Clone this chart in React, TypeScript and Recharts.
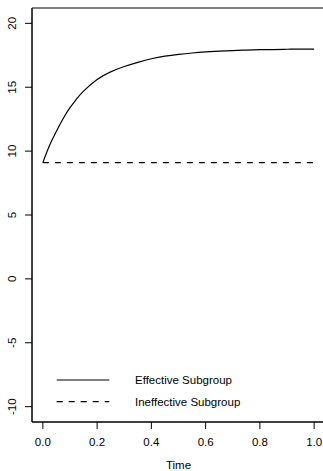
import { LineChart, Line, XAxis, YAxis, Legend, ReferenceArea } from "recharts";

// time grid and the two subgroup curves
const time = [0, 0.025, 0.05, 0.075, 0.1, 0.125, 0.15, 0.2, 0.25, 0.3, 0.35, 0.4, 0.45, 0.5, 0.55, 0.6, 0.65, 0.7, 0.75, 0.8, 0.85, 0.9, 0.95, 1.0];
const effective = [9.1, 10.45, 11.55, 12.55, 13.4, 14.1, 14.7, 15.6, 16.2, 16.62, 16.95, 17.23, 17.43, 17.57, 17.68, 17.76, 17.82, 17.87, 17.91, 17.94, 17.95, 17.97, 17.98, 17.98];
const ineffective = [9.1, 9.1, 9.1, 9.1, 9.1, 9.1, 9.1, 9.1, 9.1, 9.1, 9.1, 9.1, 9.1, 9.1, 9.1, 9.1, 9.1, 9.1, 9.1, 9.1, 9.1, 9.1, 9.1, 9.1];

const xTicks = [0, 0.2, 0.4, 0.6, 0.8, 1.0];
const yTicks = [-10, -5, 0, 5, 10, 15, 20];
const xDomain = [-0.04, 1.04];
const yDomain = [-11.2, 21.2];

const FONT = "'Liberation Sans', Arial, Helvetica, sans-serif";
const FS = 11.5;

const data = time.map((t, i) => ({ t, effective: effective[i], ineffective: ineffective[i] }));

function YTick(props: any) {
  const { y, payload } = props;
  return (
    <text
      x={12}
      y={y}
      transform={`rotate(-90, 12, ${y})`}
      textAnchor="middle"
      dominantBaseline="central"
      fontSize={FS}
      fontFamily={FONT}
      fill="#000"
    >
      {payload.value}
    </text>
  );
}

function XTick(props: any) {
  const { x, y, payload } = props;
  return (
    <text x={x} y={y + 11} textAnchor="middle" dominantBaseline="central" fontSize={FS} fontFamily={FONT} fill="#000">
      {Number(payload.value).toFixed(1)}
    </text>
  );
}

function LegendBox({ payload }: any) {
  const items = payload ?? [];
  return (
    <svg width={200} height={42} style={{ display: "block" }}>
      {items.map((item: any, i: number) => {
        const cy = 10 + i * 21.7;
        return (
          <g key={item.value}>
            <line
              x1={6.7}
              x2={59.3}
              y1={cy}
              y2={cy}
              stroke="#000"
              strokeWidth={1.2}
              strokeDasharray={item.payload?.strokeDasharray}
            />
            <text x={85} y={cy} dominantBaseline="central" fontSize={FS} fontFamily={FONT} fill="#000">
              {item.value}
            </text>
          </g>
        );
      })}
    </svg>
  );
}

export default function App() {
  return (
    <div style={{ position: "absolute", left: 0, top: 0, width: 323, height: 471, overflow: "hidden", background: "#fff" }}>
      <LineChart width={340} height={471} data={data} margin={{ top: 8, right: 15, bottom: 0, left: 0 }}>
        <XAxis
          dataKey="t"
          type="number"
          domain={xDomain}
          ticks={xTicks}
          allowDataOverflow
          height={49}
          tickSize={7}
          tickLine={{ stroke: "#000" }}
          axisLine={{ stroke: "#000" }}
          tick={<XTick />}
          label={{ value: "Time", position: "insideBottom", offset: 2, fontSize: FS, fontFamily: FONT, fill: "#000" }}
        />
        <YAxis
          type="number"
          domain={yDomain}
          ticks={yTicks}
          allowDataOverflow
          width={32}
          tickSize={7}
          tickLine={{ stroke: "#000" }}
          axisLine={{ stroke: "#000" }}
          tick={<YTick />}
        />
        <ReferenceArea x1={xDomain[0]} x2={xDomain[1]} y1={yDomain[0]} y2={yDomain[1]} fill="none" stroke="#000" strokeWidth={1} ifOverflow="visible" />
        <Line
          dataKey="effective"
          name="Effective Subgroup"
          type="natural"
          stroke="#000"
          strokeWidth={1.2}
          dot={false}
          isAnimationActive={false}
        />
        <Line
          dataKey="ineffective"
          name="Ineffective Subgroup"
          type="linear"
          stroke="#000"
          strokeWidth={1.2}
          strokeDasharray="6 6"
          dot={false}
          isAnimationActive={false}
        />
        <Legend
          layout="vertical"
          align="center"
          verticalAlign="middle"
          wrapperStyle={{ left: 50, top: 370, width: 200 }}
          content={<LegendBox />}
        />
      </LineChart>
    </div>
  );
}
